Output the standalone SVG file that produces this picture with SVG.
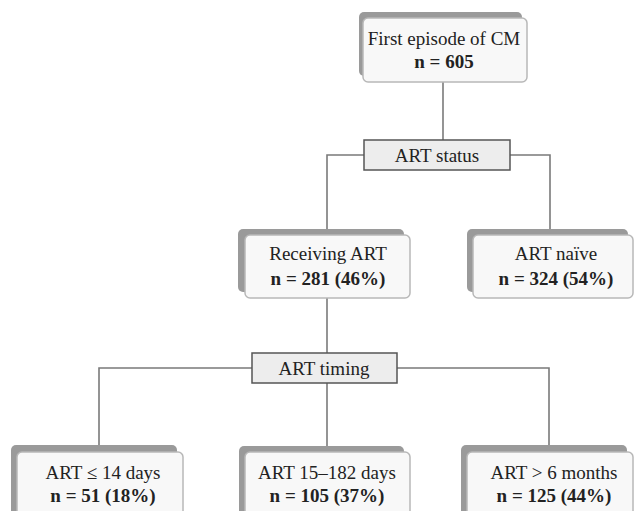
<svg xmlns="http://www.w3.org/2000/svg" width="636" height="511" viewBox="0 0 636 511">
<style>
.sh{fill:#9a9a9a}
.bx{fill:#f8f8f8;stroke:#b8b8b8;stroke-width:1.5}
.lb{fill:#ededed;stroke:#555;stroke-width:1.5}
.t{font-family:'Liberation Serif','DejaVu Serif',serif;font-size:19px;fill:#222;text-anchor:middle}
.b{font-weight:bold}
.c{fill:none;stroke:#7a7a7a;stroke-width:1.6}
</style>
<rect width="636" height="511" fill="#fff"/>
<g id="connectors">
<path class="c" d="M443,82V140"/>
<path class="c" d="M364,155H327V229"/>
<path class="c" d="M510,155H550V229"/>
<path class="c" d="M327,298V353"/>
<path class="c" d="M252,368H99V445"/>
<path class="c" d="M397,368H549V445"/>
<path class="c" d="M327,383V446"/>
</g>
<g id="first">
<rect class="sh" x="359" y="12" width="163" height="64" rx="5"/>
<rect class="bx" x="363" y="18" width="164" height="64" rx="5"/>
<text class="t" x="444" y="45">First episode of CM</text>
<text class="t b" x="444" y="68">n = 605</text>
</g>
<g id="artstatus">
<rect class="lb" x="364" y="140" width="146" height="30"/>
<text class="t" x="437" y="162">ART status</text>
</g>
<g id="receiving">
<rect class="sh" x="238" y="229" width="166" height="63" rx="5"/>
<rect class="bx" x="245" y="235" width="165" height="63" rx="5"/>
<text class="t" x="328" y="260">Receiving ART</text>
<text class="t b" x="328" y="285">n = 281 (46%)</text>
</g>
<g id="naive">
<rect class="sh" x="467" y="229" width="161" height="63" rx="5"/>
<rect class="bx" x="473" y="235" width="160" height="63" rx="5"/>
<text class="t" x="556" y="260">ART naïve</text>
<text class="t b" x="556" y="285">n = 324 (54%)</text>
</g>
<g id="arttiming">
<rect class="lb" x="252" y="353" width="145" height="30"/>
<text class="t" x="324" y="375">ART timing</text>
</g>
<g id="le14">
<rect class="sh" x="11" y="445" width="166" height="70" rx="5"/>
<rect class="bx" x="17" y="452" width="166" height="70" rx="5"/>
<text class="t" x="103" y="479">ART ≤ 14 days</text>
<text class="t b" x="103" y="502">n = 51 (18%)</text>
</g>
<g id="d15_182">
<rect class="sh" x="239" y="446" width="165" height="70" rx="5"/>
<rect class="bx" x="245" y="452" width="165" height="70" rx="5"/>
<text class="t" x="327" y="479">ART 15–182 days</text>
<text class="t b" x="327" y="502">n = 105 (37%)</text>
</g>
<g id="gt6m">
<rect class="sh" x="461" y="445" width="166" height="70" rx="5"/>
<rect class="bx" x="467" y="452" width="166" height="70" rx="5"/>
<text class="t" x="554" y="479">ART &gt; 6 months</text>
<text class="t b" x="554" y="502">n = 125 (44%)</text>
</g>
</svg>
